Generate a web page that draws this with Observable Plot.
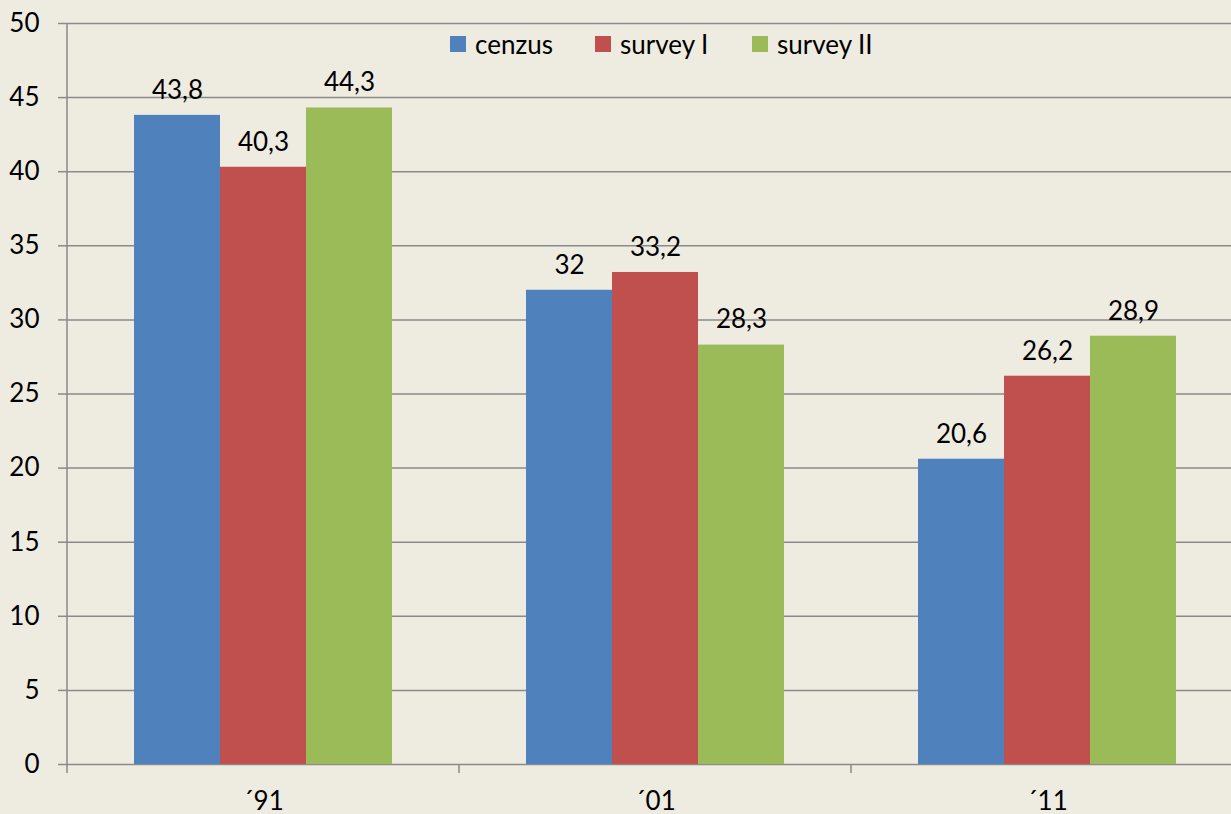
<!DOCTYPE html>
<html><head><meta charset="utf-8">
<script src="https://cdn.jsdelivr.net/npm/d3@7"></script>
<script src="https://cdn.jsdelivr.net/npm/@observablehq/plot@0.6"></script>
<style>
html,body{margin:0;padding:0;background:#EEECE1;overflow:hidden}
#wrap{position:relative;width:1231px;height:814px;font-family:Lato,"Open Sans",sans-serif}
#legend{position:absolute;left:450px;top:30px;display:flex;align-items:center;font-size:26px;line-height:28px;color:#000}
#legend .item{display:flex;align-items:center}
#legend .item:nth-child(1){width:145px}
#legend .item:nth-child(2){width:157px}
#legend .sw{width:16px;height:16px;margin-right:9px}
</style></head>
<body><div id="wrap"><div id="legend"></div></div>
<script>
const years = ["´91", "´01", "´11"];
const series = ["cenzus", "survey I", "survey II"];
const cenzus = [43.8, 32, 20.6];
const surveyI = [40.3, 33.2, 26.2];
const surveyII = [44.3, 28.3, 28.9];
const colors = ["#4F81BD", "#C0504D", "#9BBB59"];
const yTicks = [0, 5, 10, 15, 20, 25, 30, 35, 40, 45, 50];

const seriesValues = [cenzus, surveyI, surveyII];
const rows = years.flatMap((yr, i) => series.map((s, j) => ({year: yr, series: s, value: seriesValues[j][i]})));
const fmt = v => String(v).replace(".", ",");
const gray = "#8a8a8a";

const plot = Plot.plot({
  width: 1231, height: 814,
  marginLeft: 67, marginRight: 0, marginTop: 23, marginBottom: 50,
  style: {background: "transparent", fontFamily: "Lato, 'Open Sans', sans-serif", fontSize: "26px", color: "#000", overflow: "visible"},
  fx: {domain: years, range: [67, 1243], padding: 0, label: null, axis: null},
  x: {domain: series, paddingInner: 0, paddingOuter: 0.753, axis: null},
  y: {domain: [0, 50], axis: null, label: null},
  color: {domain: series, range: colors},
  marks: [
    Plot.gridY({ticks: yTicks, stroke: gray, strokeOpacity: 1, strokeWidth: 1.5}),
    Plot.barY(rows, {fx: "year", x: "series", y: "value", fill: "series"}),
    Plot.text(rows, {fx: "year", x: "series", y: "value", text: d => fmt(d.value), dy: -25, fontSize: 26, fill: "#000"}),
    Plot.axisY({ticks: yTicks, tickSize: 9, tickPadding: 19, stroke: gray, strokeWidth: 1.5, fontSize: 26, fill: "#000", tickFormat: d => String(d), label: null}),
    Plot.axisFx({anchor: "bottom", tickSize: 0, tickPadding: 27, fontSize: 26, fill: "#000", label: null})
  ]
});

// y axis line and category boundary ticks, from the plot's own scales
const fxS = plot.scale("fx"), yS = plot.scale("y");
const svg = d3.select(plot);
const g = svg.append("g").attr("stroke", gray).attr("stroke-width", 1.5);
const y0 = yS.apply(0), yTop = yS.apply(50);
years.forEach((yr, i) => {
  const x = fxS.apply(yr);
  g.append("line").attr("x1", x).attr("x2", x).attr("y1", i === 0 ? yTop : y0).attr("y2", y0 + 9);
});

document.getElementById("wrap").prepend(plot);

const legend = d3.select("#legend");
series.forEach((s, i) => {
  const it = legend.append("div").attr("class", "item");
  it.append("div").attr("class", "sw").style("background", colors[i]);
  it.append("span").text(s);
});
</script>
</body></html>
